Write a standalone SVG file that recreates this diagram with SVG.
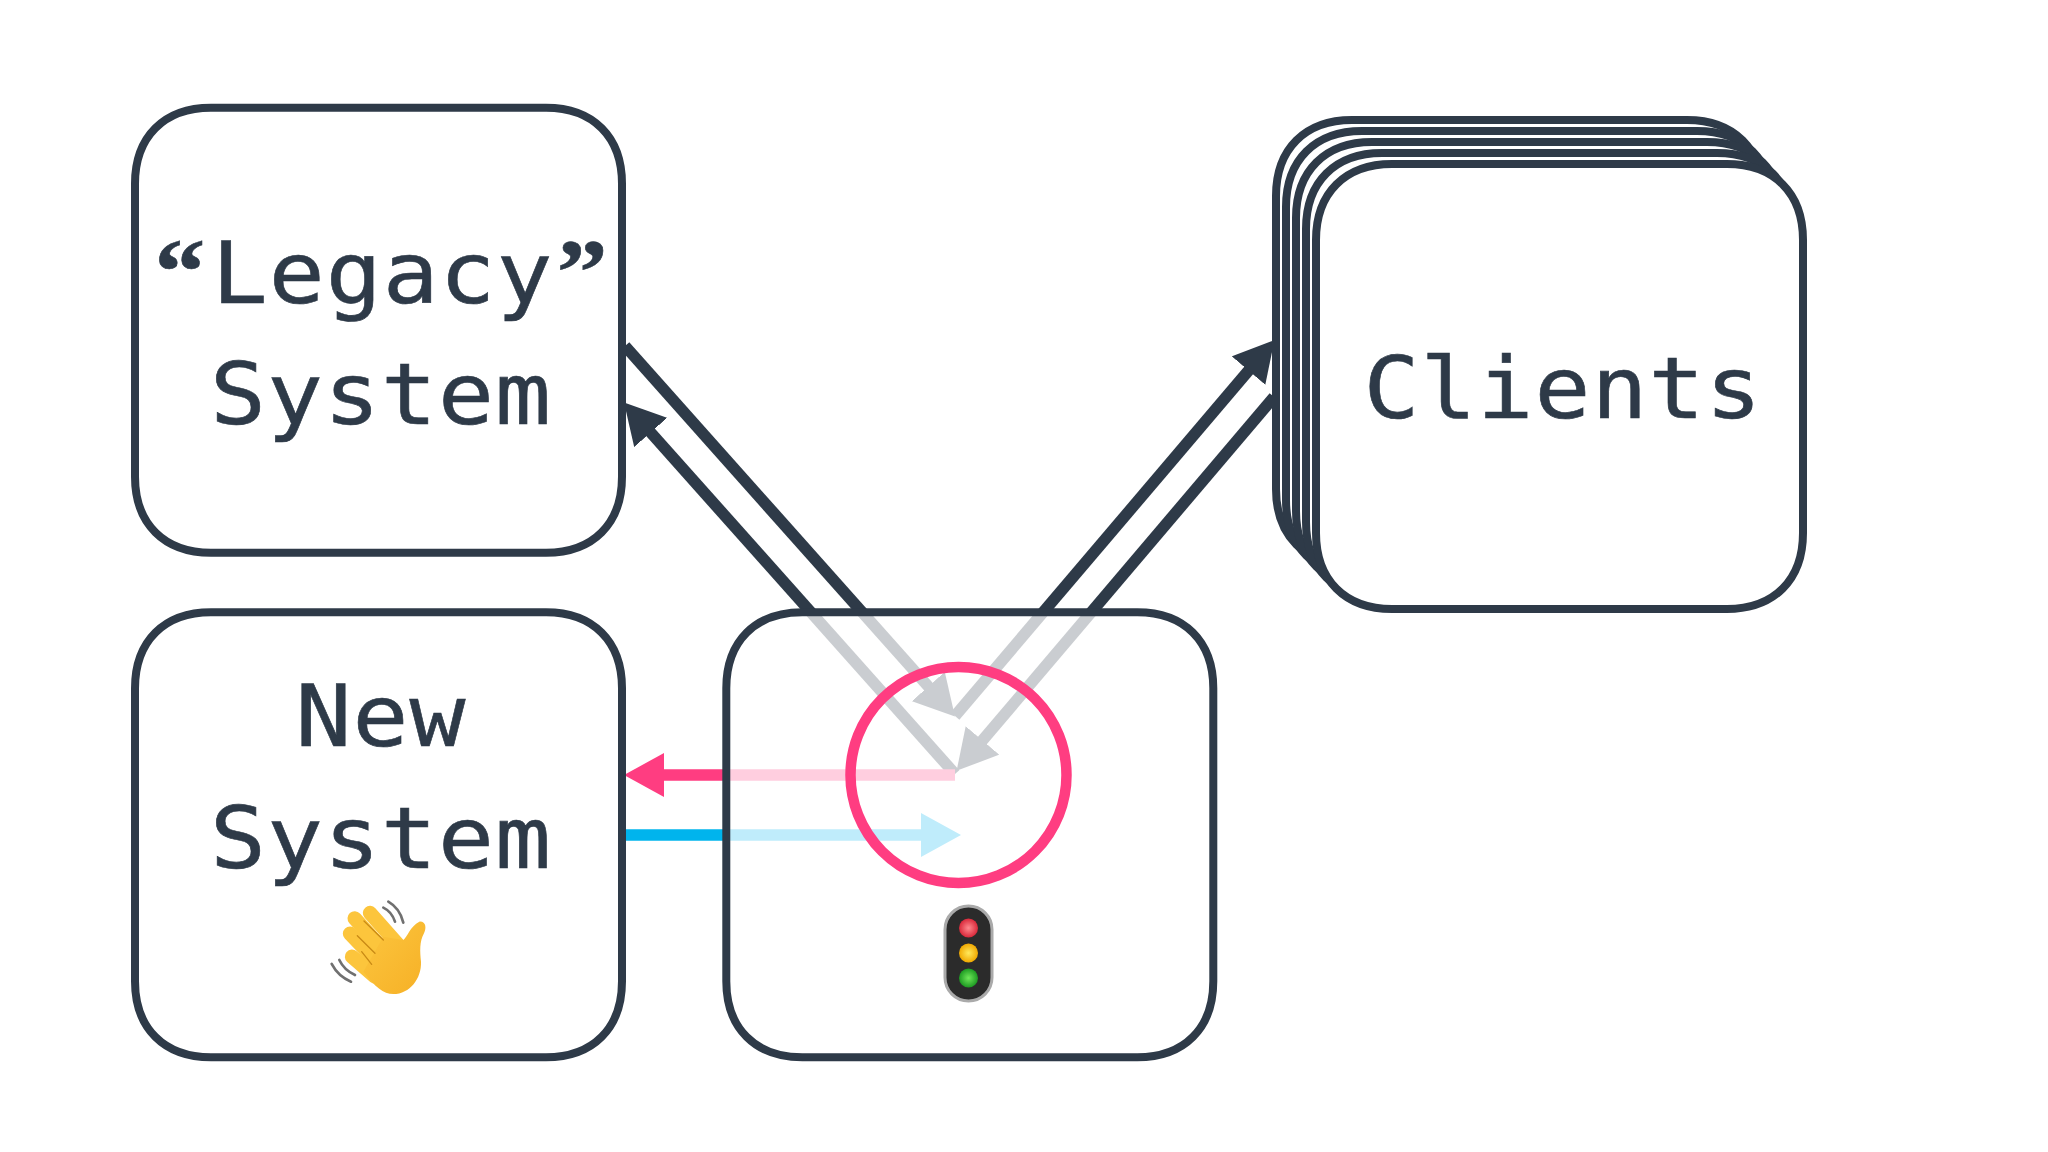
<svg xmlns="http://www.w3.org/2000/svg" width="2048" height="1152" viewBox="0 0 2048 1152">
<style>
.box{fill:#fff;stroke:#2e3a48;stroke-width:8}
.mid{fill:#fff;fill-opacity:.75;stroke:#2e3a48;stroke-width:8}
.t{font-family:"DejaVu Sans Mono","Liberation Mono",monospace;font-size:86px;letter-spacing:1px;fill:#2e3a48;stroke:#2e3a48;stroke-width:.6;text-anchor:middle}
.q{font-family:"Liberation Serif",serif;font-size:94px;font-weight:700;letter-spacing:0}
.c{fill:none;stroke-width:11.5}
</style>
<defs>
<path id="sq" d="M76,0H411C458,0 487,29 487,76V369C487,416 458,445 411,445H76C29,445 0,416 0,369V76C0,29 29,0 76,0Z"/>
<marker id="hd" markerUnits="userSpaceOnUse" markerWidth="42" markerHeight="44" refX="10" refY="22" orient="auto"><path d="M0,0L40,22L0,44Z" fill="#2e3a48"/></marker>
<marker id="hp" markerUnits="userSpaceOnUse" markerWidth="42" markerHeight="44" refX="10" refY="22" orient="auto"><path d="M0,0L40,22L0,44Z" fill="#ff3d81"/></marker>
<marker id="hb" markerUnits="userSpaceOnUse" markerWidth="42" markerHeight="44" refX="10" refY="22" orient="auto"><path d="M0,0L40,22L0,44Z" fill="#00b4ed"/></marker>
<radialGradient id="r"><stop offset="0" stop-color="#ff8a8f"/><stop offset="1" stop-color="#d9283a"/></radialGradient>
<radialGradient id="y"><stop offset="0" stop-color="#ffe95c"/><stop offset="1" stop-color="#f0a800"/></radialGradient>
<radialGradient id="g"><stop offset="0" stop-color="#6fe85a"/><stop offset="1" stop-color="#1d9a22"/></radialGradient>
<linearGradient id="skin" x1="0" y1="0" x2="1" y2="1"><stop offset="0" stop-color="#fcc63f"/><stop offset="1" stop-color="#f6b026"/></linearGradient>
</defs>
<g id="connectors">
<path class="c" stroke="#2e3a48" marker-end="url(#hd)" d="M625,346L935,694"/>
<path class="c" stroke="#2e3a48" marker-end="url(#hd)" d="M955,774L644,425"/>
<path class="c" stroke="#2e3a48" marker-end="url(#hd)" d="M955,716L1255,363"/>
<path class="c" stroke="#2e3a48" marker-end="url(#hd)" d="M1274,397L976,748"/>
<path class="c" stroke="#ff3d81" marker-end="url(#hp)" d="M955,775H654"/>
<path class="c" stroke="#00b4ed" marker-end="url(#hb)" d="M626,835H931"/>
</g>
<g id="legacy">
<use href="#sq" class="box" x="135" y="107.700"/>
<text class="t" transform="translate(381,303) scale(1.08,1)"><tspan class="q">“</tspan><tspan dx="6">Legacy</tspan><tspan class="q" dx="3">”</tspan></text>
<text class="t" transform="translate(381,424) scale(1.08,1)">System</text>
</g>
<g id="new-system">
<use href="#sq" class="box" x="135" y="612.300"/>
<text class="t" transform="translate(381,746) scale(1.08,1)">New</text>
<text class="t" transform="translate(381,868) scale(1.08,1)">System</text>
<g id="wave" transform="translate(320,895) scale(.3333)">
<g fill="none" stroke="#707070" stroke-width="8" stroke-linecap="round">
<path d="M190,38Q215,50 225,80"/><path d="M205,20Q240,40 250,83"/>
<path d="M35,207Q55,245 93,260"/><path d="M58,195Q72,225 105,240"/>
</g>
<g fill="none" stroke="#fcc53c" stroke-linecap="round">
<path stroke-width="43" d="M150,54L235,150"/>
<path stroke-width="43" d="M104,70L195,170"/>
<path stroke-width="43" d="M90,116L170,200"/>
<path stroke-width="43" d="M96,185L165,245"/>
</g>
<path fill="url(#skin)" d="M190,125L250,135C262,125 270,95 298,80C318,78 320,100 312,115C298,140 300,170 303,200C305,250 270,297 220,297C190,297 165,275 130,230Z"/>
<g fill="none" stroke="#c98a15" stroke-width="4" stroke-linecap="round">
<path d="M132,78L190,135"/><path d="M112,122L165,175"/><path d="M125,170L155,208"/>
</g>
</g>
</g>
<g id="gateway">
<use href="#sq" class="mid" x="726.300" y="612.300"/>
<circle cx="958.500" cy="775" r="108" fill="none" stroke="#ff3d81" stroke-width="10.500"/>
<g id="traffic-light">
<rect x="945" y="906" width="47" height="95" rx="23.500" fill="#2b2b2b" stroke="#aaa" stroke-width="3"/>
<circle cx="968.500" cy="928" r="9.500" fill="url(#r)"/>
<circle cx="968.500" cy="953" r="9.500" fill="url(#y)"/>
<circle cx="968.500" cy="978" r="9.500" fill="url(#g)"/>
</g>
</g>
<g id="clients">
<use href="#sq" class="box" x="1276" y="120"/>
<use href="#sq" class="box" x="1286" y="131"/>
<use href="#sq" class="box" x="1296" y="142"/>
<use href="#sq" class="box" x="1306" y="153"/>
<use href="#sq" class="box" x="1316" y="164"/>
<text class="t" transform="translate(1563,418) scale(1.08,1)">Clients</text>
</g>
</svg>
